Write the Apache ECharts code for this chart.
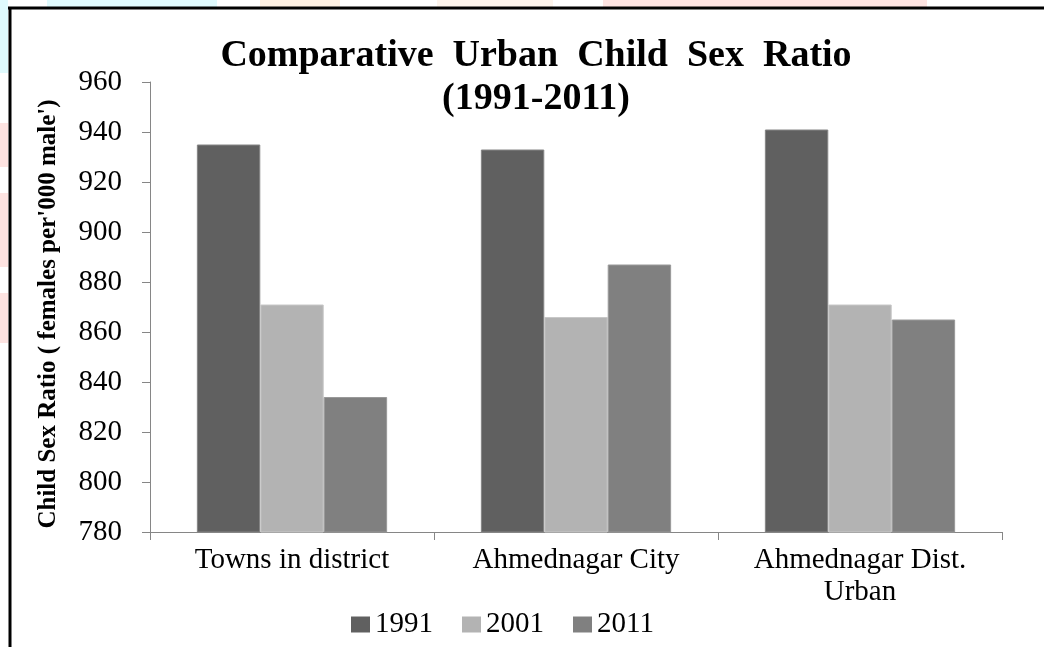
<!DOCTYPE html>
<html>
<head>
<meta charset="utf-8">
<script src="https://cdn.jsdelivr.net/npm/echarts@6/dist/echarts.min.js"></script>
<style>html,body{margin:0;padding:0;background:#fff;}#c{width:1044px;height:647px;}</style>
</head>
<body>
<div id="c"></div>
<script>
var categories = ['Towns in district', 'Ahmednagar City', 'Ahmednagar Dist.\nUrban'];
var seriesNames = ['1991', '2001', '2011'];
var values1991 = [935, 933, 941];
var values2001 = [871, 866, 871];
var values2011 = [834, 887, 865];
var yTicks = {min: 780, max: 960, interval: 20};

var F = 'Liberation Serif, Times New Roman, serif';
var chart = echarts.init(document.getElementById('c'));
var colors = ['#606060', '#b3b3b3', '#808080'];
var borders = ['#858585', '#c8c8c8', '#999999'];
var data = [values1991, values2001, values2011];

chart.setOption({
  backgroundColor: '#ffffff',
  animation: false,
  title: {
    text: 'Comparative  Urban  Child  Sex  Ratio\n(1991-2011)',
    left: 531, top: 30, textAlign: 'center',
    textStyle: {fontFamily: F, fontWeight: 'bold', fontSize: 38, lineHeight: 43, color: '#000'}
  },
  graphic: [
    {type: 'rect', shape: {x: 47, y: 0, width: 170, height: 7}, style: {fill: '#dffafd'}, silent: true},
    {type: 'rect', shape: {x: 260, y: 0, width: 80, height: 7}, style: {fill: '#fdf0e2'}, silent: true},
    {type: 'rect', shape: {x: 437, y: 0, width: 116, height: 7}, style: {fill: '#fdf4ec'}, silent: true},
    {type: 'rect', shape: {x: 603, y: 0, width: 324, height: 7}, style: {fill: '#fde3e1'}, silent: true},
    {type: 'rect', shape: {x: 0, y: 0, width: 8, height: 73}, style: {fill: '#dffafd'}, silent: true},
    {type: 'rect', shape: {x: 0, y: 123, width: 8, height: 44}, style: {fill: '#fde3e1'}, silent: true},
    {type: 'rect', shape: {x: 0, y: 193, width: 8, height: 74}, style: {fill: '#fde3e1'}, silent: true},
    {type: 'rect', shape: {x: 0, y: 293, width: 8, height: 50}, style: {fill: '#fde3e1'}, silent: true},
    {type: 'line', shape: {x1: 8, y1: 8, x2: 1044, y2: 8}, style: {stroke: '#000', lineWidth: 3}, silent: true},
    {type: 'line', shape: {x1: 10, y1: 7, x2: 10, y2: 647}, style: {stroke: '#000', lineWidth: 3}, silent: true}
  ],
  legend: {
    data: seriesNames,
    left: 346, top: 605,
    itemWidth: 19, itemHeight: 16, itemGap: 29, itemStyle: {borderWidth: 0},
    textStyle: {fontFamily: F, fontSize: 29, color: '#000'},
    icon: 'rect'
  },
  grid: {left: 150, right: 42, top: 82, bottom: 115},
  xAxis: {
    type: 'category', data: categories,
    axisLine: {lineStyle: {color: '#868686', width: 1}},
    axisTick: {show: true, length: 8, alignWithLabel: false, lineStyle: {color: '#868686'}},
    axisLabel: {interval: 0, margin: 12, fontFamily: F, fontSize: 29, color: '#000', lineHeight: 32}
  },
  yAxis: {
    type: 'value', min: yTicks.min, max: yTicks.max, interval: yTicks.interval,
    name: "Child Sex Ratio ( females per'000 male')",
    nameLocation: 'middle', nameGap: 89, nameRotate: 90,
    nameTextStyle: {fontFamily: F, fontWeight: 'bold', fontSize: 25, color: '#000', padding: [0, 14, 0, 0]},
    axisLine: {show: true, lineStyle: {color: '#868686', width: 1}},
    axisTick: {show: true, length: 8, lineStyle: {color: '#868686'}},
    splitLine: {show: false},
    axisLabel: {margin: 28, fontFamily: F, fontSize: 29, color: '#000'}
  },
  series: seriesNames.map(function (n, i) {
    return {
      name: n, type: 'bar', data: data[i],
      barGap: '0%', barCategoryGap: '33%',
      itemStyle: {color: colors[i], borderColor: borders[i], borderWidth: 1}
    };
  })
});
</script>
</body>
</html>
